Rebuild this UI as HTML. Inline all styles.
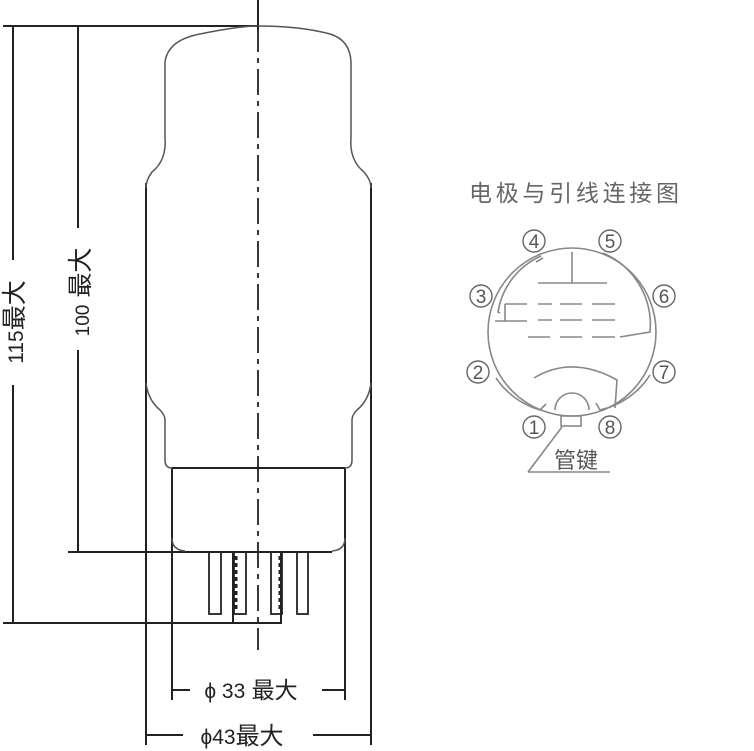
<!DOCTYPE html>
<html><head><meta charset="utf-8"><style>
html,body{margin:0;padding:0;background:#fff;}
svg{display:block}
text{font-family:"Liberation Sans","Noto Sans CJK SC",sans-serif;}
</style></head><body>
<svg width="754" height="751" viewBox="0 0 754 751" xmlns="http://www.w3.org/2000/svg">
<g fill="none" stroke="#222" stroke-width="2">
 <line x1="3" y1="26" x2="258" y2="26"/>
 <line x1="258" y1="0" x2="258" y2="30"/>
 <line x1="13" y1="26" x2="13" y2="260"/>
 <line x1="13" y1="385" x2="13" y2="623"/>
 <line x1="3" y1="623" x2="234" y2="623"/>
 <line x1="78" y1="26" x2="78" y2="228"/>
 <line x1="78" y1="350" x2="78" y2="552"/>
 <line x1="68" y1="552" x2="332" y2="552"/>
 <line x1="146" y1="183" x2="146" y2="745"/>
 <line x1="371" y1="183" x2="371" y2="745"/>
 <path d="M172 468 V700 M345 468 V700"/>
 <line x1="172" y1="468" x2="345" y2="468"/>
 <line x1="172" y1="690" x2="190" y2="690"/>
 <line x1="322" y1="690" x2="345" y2="690"/>
 <line x1="146" y1="735" x2="183" y2="735"/>
 <line x1="313" y1="735" x2="371" y2="735"/>
 <path d="M233 552 V623 H281 V552"/>
</g>
<g fill="none" stroke="#555" stroke-width="1.5">
 <path d="M165 137 V62 Q168 40 200 34 Q240 26 258 26 Q300 26 330 34 Q350 40 351 62 V137"/>
 <path d="M165 137 Q167 160 152 172 Q146 180 146 188"/>
 <path d="M351 137 Q349 160 364 172 Q371 180 371 188"/>
 <path d="M146 383 Q148 400 160 410 Q165 415 165 420 V460 Q165 468 172 468"/>
 <path d="M371 383 Q369 400 357 410 Q352 415 352 420 V460 Q352 468 345 468"/>
 <path d="M172 538 Q172 550 185 551 M345 538 Q345 550 332 551"/>
</g>
<g fill="none" stroke="#222" stroke-width="1.8">
 <line x1="258" y1="26" x2="258" y2="650" stroke-dasharray="26,6,5,6"/>
 <rect x="209" y="552" width="12" height="62"/>
 <rect x="234" y="552" width="12" height="62"/>
 <rect x="271" y="552" width="11" height="62"/>
 <rect x="297" y="552" width="11" height="62"/>
 <line x1="236" y1="556" x2="236" y2="612" stroke-width="3" stroke-dasharray="4,3"/>
 <line x1="280" y1="556" x2="280" y2="612" stroke-width="3" stroke-dasharray="4,3"/>
</g>
<g fill="#222" font-size="25">
 <text transform="translate(23,322) rotate(-90)" text-anchor="middle"><tspan font-size="21">115</tspan>最大</text>
 <text transform="translate(89,292) rotate(-90)" text-anchor="middle"><tspan font-size="19">100</tspan> 最大</text>
 <text x="251" y="698" text-anchor="middle" font-size="23"><tspan font-size="21">ϕ 33</tspan> 最大</text>
 <text x="242" y="744" text-anchor="middle" font-size="24"><tspan font-size="21">ϕ43</tspan>最大</text>
</g>
<g fill="none" stroke="#888" stroke-width="1.6">
 <circle cx="572" cy="332" r="84"/>
 <path d="M541 256 A74 74 0 0 0 498 312 L500 313"/>
 <path d="M536 262 L543 258"/>
 <path d="M505 304 V321 M495 321 H527 M505 304 H527"/>
 <path d="M603 253 A78 78 0 0 1 650 332 L620 337"/>
 <path d="M496 378 A80 80 0 0 0 540 410 L546 404"/>
 <path d="M650 375 A80 80 0 0 1 600 410 L596 403"/>
 <path d="M572 252 V283 M538 283 H607"/>
 <path d="M538 304 H552 M560 304 H582 M592 304 H615 M538 320 H552 M560 320 H582 M592 320 H615 M528 337 H550 M560 337 H582 M592 337 H615"/>
 <path d="M534 378 Q572 355 617 380 L615 408"/>
 <path d="M555 410 A17 17 0 0 1 589 410"/>
 <rect x="561" y="416" width="20" height="10"/>
 <path d="M528 472 L562 427 M528 472 H610"/>
 <g stroke="#666" stroke-width="1.4">
  <circle cx="534" cy="241" r="11"/><circle cx="610" cy="241" r="11"/>
  <circle cx="481" cy="296" r="11"/><circle cx="664" cy="296" r="11"/>
  <circle cx="478" cy="372" r="11"/><circle cx="664" cy="372" r="11"/>
  <circle cx="534" cy="427" r="11"/><circle cx="610" cy="427" r="11"/>
 </g>
</g>
<g fill="#555" font-size="19" text-anchor="middle">
 <text x="534" y="248">4</text><text x="610" y="248">5</text>
 <text x="481" y="303">3</text><text x="664" y="303">6</text>
 <text x="478" y="379">2</text><text x="664" y="379">7</text>
 <text x="534" y="434">1</text><text x="610" y="434">8</text>
 <text x="576" y="468" font-size="22">管键</text>
 <text x="574" y="201" font-size="23" fill="#666" font-family="'Noto Serif CJK SC',serif" textLength="210" lengthAdjust="spacing">电极与引线连接图</text>
</g>
</svg>
</body></html>
